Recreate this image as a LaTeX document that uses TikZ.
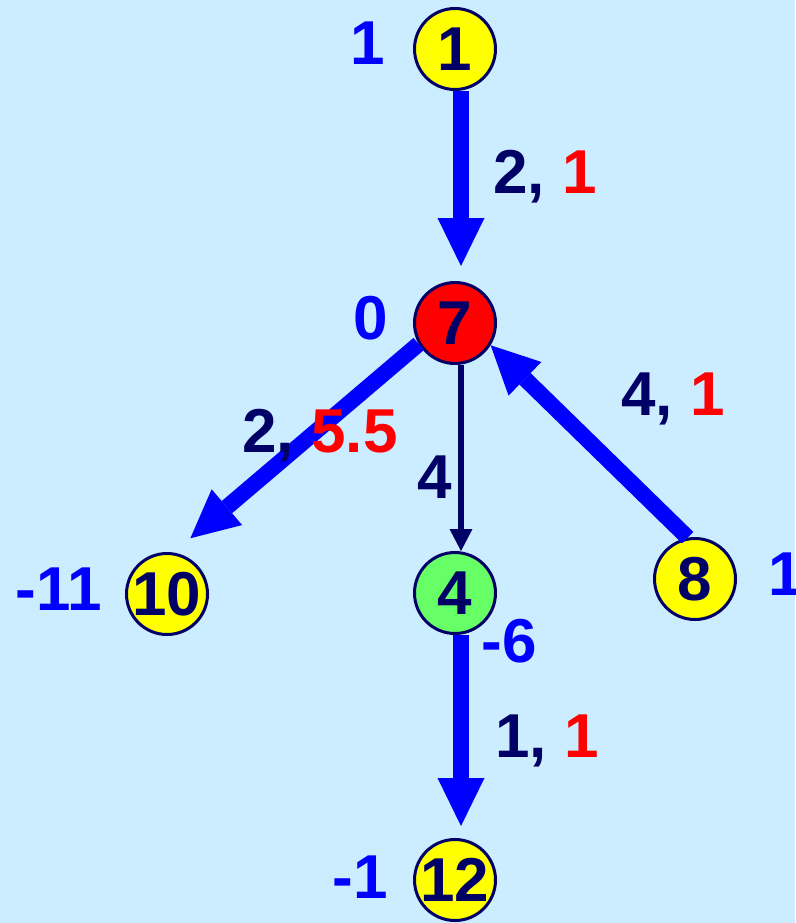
\documentclass[tikz,border=0pt]{standalone}
\usepackage{fontspec}
\setmainfont{Liberation Sans}
\usetikzlibrary{arrows.meta}
\definecolor{bg}{HTML}{CCECFF}
\definecolor{navy}{HTML}{000066}
\definecolor{vblue}{HTML}{0000FF}
\definecolor{vred}{HTML}{FF0000}
\definecolor{vyellow}{HTML}{FFFF00}
\definecolor{vgreen}{HTML}{66FF66}
\begin{document}
\begin{tikzpicture}[x=1pt,y=-1pt,
  every node/.style={font=\fontsize{62}{68}\selectfont\bfseries},
  vnode/.style={circle, draw=navy, line width=3pt, minimum size=81pt, inner sep=0pt, text=navy},
  wt/.style={text=vblue, anchor=base, inner sep=0pt},
  elab/.style={text=navy, anchor=base, inner sep=0pt},
  fat/.style={draw=vblue, line width=16pt, -{Triangle[length=48pt,width=47pt,line width=0pt]}},
  thinarrow/.style={draw=navy, line width=6pt, -{Triangle[length=22pt,width=23pt,line width=0pt]}}]
\useasboundingbox (0,0) rectangle (795,923);
\fill[bg] (0,0) rectangle (795,923);
% nodes
\node[vnode, fill=vyellow] (n1) at (455,49) {\makebox[0pt]{1}};
\node[vnode, fill=vred] (n7) at (455,323) {\makebox[0pt]{7}};
\node[vnode, fill=vyellow] (n10) at (167,594) {\makebox[0pt]{10}};
\node[vnode, fill=vgreen] (n4) at (455,593) {\makebox[0pt]{4}};
\node[vnode, fill=vyellow] (n8) at (695,579) {\makebox[0pt]{8}};
\node[vnode, fill=vyellow] (n12) at (455,880) {\makebox[0pt]{12}};
% connectors
\draw[fat, shorten >=15pt] ([xshift=6pt]n1.south) -- ([xshift=6pt]n7.north);
\draw[fat, shorten >=12pt] ([xshift=6pt]n4.south) -- ([xshift=6pt]n12.north);
\draw[thinarrow] ([xshift=6pt]n7.south) -- ([xshift=6pt]n4.north);
\draw[fat, shorten >=22pt] (n7.210) -- (n10.81);
\draw[fat] (n8.100) -- (n7.-32);
% node values
\node[wt] (w1) at (368,65) {1};
\node[wt] (w7) at (371,339) {0};
\node[wt] (w10) at (59,610) {-11};
\node[wt] (w8) at (786,595) {1};
\node[wt] (w4) at (509,662) {-6};
\node[wt] (w12) at (360,898) {-1};
% edge labels
\node[elab] (e17) at (545,193) {2, \textcolor{vred}{1}};
\node[elab] (e710) at (320,452) {2, \textcolor{vred}{5.5}};
\node[elab] (e74) at (435,498) {4};
\node[elab] (e87) at (673,415) {4, \textcolor{vred}{1}};
\node[elab] (e412) at (547,757) {1, \textcolor{vred}{1}};
\end{tikzpicture}
\end{document}
